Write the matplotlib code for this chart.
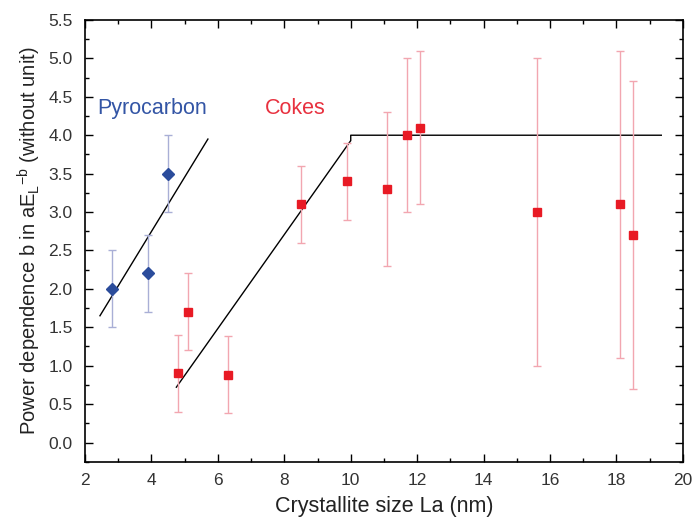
import matplotlib.pyplot as plt
from matplotlib.ticker import MultipleLocator

plt.rcParams["font.family"] = ["Liberation Sans", "DejaVu Sans"]

# Pyrocarbon data
pyro_x = [2.8, 3.9, 4.5]
pyro_y = [2.0, 2.2, 3.5]
pyro_err = [0.5, 0.5, 0.5]

# Cokes data
cokes_x = [4.8, 5.1, 6.3, 8.5, 9.9, 11.1, 11.7, 12.1, 15.6, 18.1, 18.5]
cokes_y = [0.9, 1.7, 0.88, 3.1, 3.4, 3.3, 4.0, 4.1, 3.0, 3.1, 2.7]
cokes_err = [0.5, 0.5, 0.5, 0.5, 0.5, 1.0, 1.0, 1.0, 2.0, 2.0, 2.0]

# guide lines
pyro_line_x = [2.45, 5.7]
pyro_line_y = [1.65, 3.95]
cokes_line_x = [4.75, 10.0, 10.0, 19.35]
cokes_line_y = [0.72, 3.93, 4.0, 4.0]

fig = plt.figure(figsize=(6.94, 5.22), dpi=100)
ax = fig.add_axes([0.1225, 0.1155, 0.8615, 0.8462])

ax.errorbar(pyro_x, pyro_y, yerr=pyro_err, fmt="D", color="#2b4c9b",
            ecolor="#a9afd6", elinewidth=1, capsize=3, capthick=1,
            markersize=6.5, zorder=3)
ax.errorbar(cokes_x, cokes_y, yerr=cokes_err, fmt="s", color="#e81a24",
            ecolor="#f2a6b0", elinewidth=1, capsize=3, capthick=1,
            markersize=6, zorder=3)

ax.plot(pyro_line_x, pyro_line_y, color="black", lw=1)
ax.plot(cokes_line_x, cokes_line_y, color="black", lw=1)

ax.text(2.36, 4.35, "Pyrocarbon", color="#3355a5", fontsize=15.5, va="center")
ax.text(7.42, 4.35, "Cokes", color="#e8313f", fontsize=15.5, va="center")

ax.set_xlim(2, 20)
ax.set_ylim(-0.25, 5.5)
ax.xaxis.set_major_locator(MultipleLocator(2))
ax.xaxis.set_minor_locator(MultipleLocator(1))
ax.yaxis.set_major_locator(MultipleLocator(0.5))
ax.yaxis.set_minor_locator(MultipleLocator(0.25))
ax.yaxis.set_major_formatter(plt.FormatStrFormatter("%.1f"))
ax.tick_params(which="both", direction="in", top=True, right=True,
               labelsize=12.5, width=1, labelcolor="#333333")
ax.tick_params(which="major", length=6)
ax.tick_params(which="minor", length=3)
ax.tick_params(axis="x", pad=8)
ax.tick_params(axis="y", pad=9)
for s in ax.spines.values():
    s.set_linewidth(1.2)

ax.set_xlabel("Crystallite size La (nm)", fontsize=15.5, labelpad=6,
              color="#222222")
ax.set_ylabel(r"Power dependence b in aE$_\mathregular{L}$$^\mathregular{-b}$ (without unit)",
              fontsize=14.5, labelpad=4, color="#222222")

fig.savefig("out.png", dpi=100)
